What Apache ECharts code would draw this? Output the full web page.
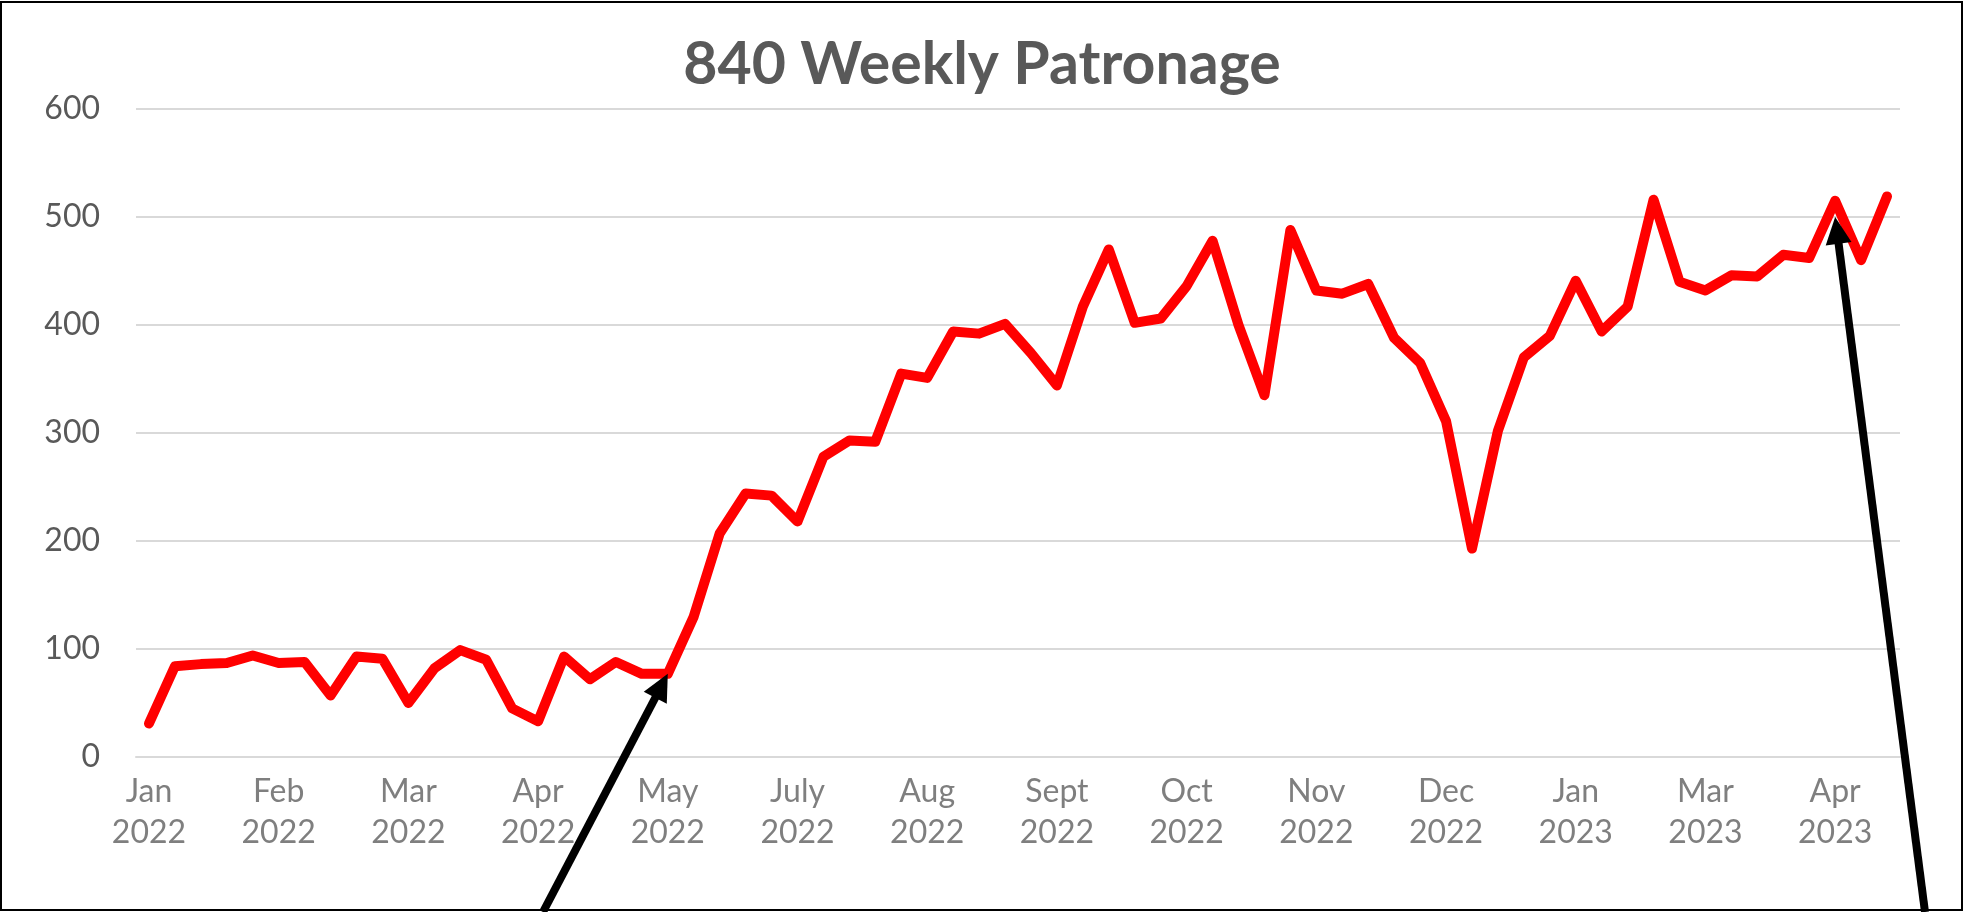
<!DOCTYPE html>
<html lang="en">
<head>
<meta charset="UTF-8">
<title>840 Weekly Patronage</title>
<script src="https://cdn.jsdelivr.net/npm/echarts@6/dist/echarts.min.js"></script>
<style>
  body { margin: 0; background: #fff; }
  #chart { width: 1964px; height: 912px; }
</style>
</head>
<body>
<div id="chart"></div>
<script>
// weekly patronage, one value per week from Jan 2022
var weekly = [31, 84, 86, 87, 94, 87, 88, 57, 93, 91,
              50, 82, 99, 90, 45, 33, 93, 72, 88, 77,
              77, 130, 207, 244, 242, 218, 278, 293, 292, 355,
              351, 394, 392, 401, 374, 344, 417, 470, 402, 406,
              436, 478, 400, 335, 488, 432, 429, 438, 388, 365,
              311, 193, 302, 370, 390, 441, 394, 417, 516, 440,
              432, 446, 445, 465, 462, 515, 460, 519];
// a label every 5th week
var tickLabels = ['Jan\n2022', 'Feb\n2022', 'Mar\n2022', 'Apr\n2022', 'May\n2022',
                  'July\n2022', 'Aug\n2022', 'Sept\n2022', 'Oct\n2022', 'Nov\n2022',
                  'Dec\n2022', 'Jan\n2023', 'Mar\n2023', 'Apr\n2023'];
// arrows point at these [week index, value]
var arrowTips = [[20, 77], [65, 500]];

var weeks = weekly.map(function (v, i) {
    return i % 5 === 0 ? tickLabels[i / 5] : 'w' + i;
});

var chart = echarts.init(document.getElementById('chart'));
chart.setOption({
    animation: false,
    title: {
        text: '840 Weekly Patronage',
        left: 'center',
        top: 30,
        textStyle: { fontFamily: 'Lato', fontWeight: 'bold', fontSize: 59, color: '#595959' }
    },
    grid: { left: 136, right: 64, top: 109, bottom: 155 },
    xAxis: {
        type: 'category',
        data: weeks,
        boundaryGap: true,
        axisLine: { show: true, lineStyle: { color: '#d9d9d9', width: 2 } },
        axisTick: { show: false },
        axisLabel: {
            interval: 4,
            margin: 14,
            fontFamily: 'Lato',
            fontSize: 32,
            lineHeight: 41,
            color: '#7f7f7f'
        }
    },
    yAxis: {
        type: 'value',
        min: 0,
        max: 600,
        interval: 100,
        axisLine: { show: false },
        axisTick: { show: false },
        splitLine: { lineStyle: { color: '#d9d9d9', width: 2 } },
        axisLabel: { margin: 36, fontFamily: 'Lato', fontSize: 32, color: '#595959' }
    },
    series: [{
        type: 'line',
        data: weekly,
        symbol: 'none',
        lineStyle: { color: '#ff0000', width: 10, cap: 'round', join: 'round' }
    }]
});

// black arrows from the bottom edge up to two points
function arrow(tail, tip) {
    var dx = tip[0] - tail[0], dy = tip[1] - tail[1];
    var len = Math.sqrt(dx * dx + dy * dy);
    var ux = dx / len, uy = dy / len;
    var headLen = 27, headW = 13;
    var bx = tip[0] - ux * headLen, by = tip[1] - uy * headLen;
    return [{
        type: 'line',
        shape: { x1: tail[0], y1: tail[1], x2: bx + ux * 2, y2: by + uy * 2 },
        style: { stroke: '#000', lineWidth: 8 },
        z: 100
    }, {
        type: 'polygon',
        shape: { points: [tip, [bx - uy * headW, by + ux * headW], [bx + uy * headW, by - ux * headW]] },
        style: { fill: '#000' },
        z: 100
    }];
}

var tip1 = chart.convertToPixel({ gridIndex: 0 }, arrowTips[0]);
var tip2 = chart.convertToPixel({ gridIndex: 0 }, arrowTips[1]);
var graphics = [{
    type: 'rect',
    shape: { x: 1, y: 2, width: 1961, height: 908 },
    style: { fill: 'none', stroke: '#000', lineWidth: 2 },
    z: 101
}];
graphics = graphics.concat(arrow([543, 912], tip1), arrow([1925, 912], tip2));
chart.setOption({ graphic: graphics });
</script>
</body>
</html>
